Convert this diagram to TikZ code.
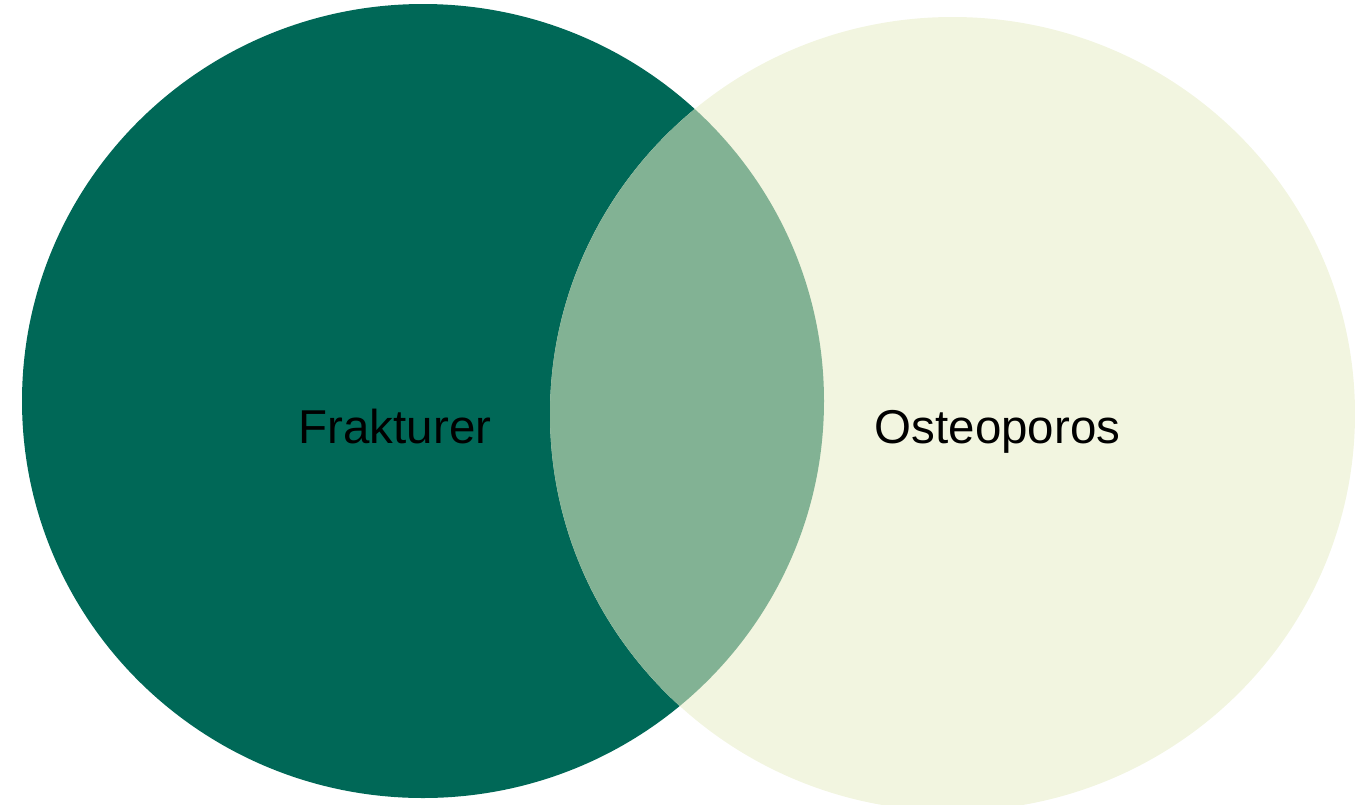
\documentclass[tikz,border=0pt]{standalone}
\usepackage{fontspec}
\setmainfont{Liberation Sans}
\definecolor{fraktur}{RGB}{0,104,87}
\definecolor{osteo}{RGB}{242,245,224}
\definecolor{lens}{RGB}{130,178,148}
\begin{document}
\begin{tikzpicture}[x=1pt, y=-1pt, font=\fontsize{47.5}{50}\selectfont]
        \useasboundingbox (0,0) rectangle (1355,804);
        \fill[fraktur] (423,401) ellipse (401 and 397);
        \fill[osteo] (952.5,414) ellipse (402.5 and 397);
        \begin{scope}
            \clip (423,401) ellipse (401 and 397);
            \fill[lens] (952.5,414) ellipse (402.5 and 397);
        \end{scope}
        \node[anchor=base] (fraktur) at (395,443) {Frakturer};
        \node[anchor=base] (osteo) at (997.5,443) {Osteoporos};
    \end{tikzpicture}
\end{document}
